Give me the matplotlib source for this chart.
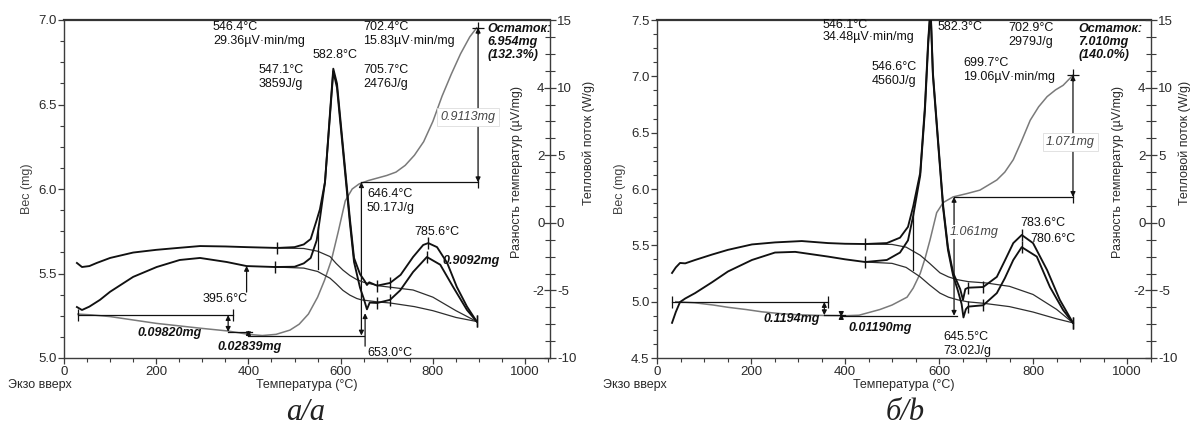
import matplotlib
matplotlib.use('Agg')
import numpy as np
import matplotlib.pyplot as plt
from matplotlib.ticker import MultipleLocator, FormatStrFormatter

plt.rcParams['font.family'] = ['Liberation Sans', 'DejaVu Sans']
plt.rcParams['axes.unicode_minus'] = False

# ---------------- data : panel a ----------------
a_tga_T = [30, 60, 100, 150, 200, 250, 300, 355, 400, 430, 460, 490, 510, 530, 550, 565,
           580, 595, 610, 625, 640, 660, 680, 700, 720, 740, 760, 780, 800, 820, 840, 860, 880, 895]
a_tga_w = [5.26, 5.255, 5.245, 5.225, 5.205, 5.19, 5.175, 5.16, 5.14, 5.133, 5.14, 5.165, 5.20,
           5.26, 5.36, 5.46, 5.58, 5.75, 5.93, 6.00, 6.03, 6.05, 6.065, 6.08, 6.10, 6.14, 6.20,
           6.28, 6.40, 6.55, 6.68, 6.80, 6.90, 6.954]
a_dta1_T = [28, 39, 55, 71, 100, 150, 200, 250, 295, 350, 396, 463, 500, 520, 535, 548, 555, 566,
            577, 584, 592, 606, 620, 629, 642, 652, 657, 662, 679, 707, 730, 757, 779, 790, 809,
            831, 852, 874, 895]
a_dta1_v = [-2.97, -3.27, -3.2, -2.97, -2.6, -2.2, -2.0, -1.85, -1.72, -1.75, -1.8, -1.86, -1.8,
            -1.6, -1.2, 0.2, 1.0, 3.0, 8.2, 11.4, 10.3, 5.3, 0.3, -2.6, -3.8, -4.3, -4.6, -4.4,
            -4.65, -4.45, -3.85, -2.53, -1.64, -1.5, -1.8, -2.97, -4.75, -6.2, -7.3]
a_dta2_T = [28, 39, 55, 78, 100, 150, 201, 251, 295, 353, 396, 457, 500, 520, 535, 548, 555, 566,
            577, 584, 592, 606, 620, 629, 642, 650, 657, 663, 679, 707, 729, 757, 787, 816, 844,
            874, 895]
a_dta2_v = [-6.23, -6.45, -6.2, -5.7, -5.1, -4.0, -3.27, -2.75, -2.6, -2.9, -3.2, -3.27, -3.25,
            -3.0, -2.6, -1.3, 0.3, 3.0, 8.0, 11.2, 10.0, 5.0, 0.0, -2.9, -4.8, -5.6, -6.4, -5.9,
            -5.93, -5.7, -5.0, -3.64, -2.53, -3.1, -4.75, -6.45, -7.3]
a_base1_T = [463, 520, 550, 577, 590, 605, 620, 635, 650, 685, 757, 800, 850, 895]
a_base1_v = [-1.86, -1.9, -2.1, -2.5, -3.0, -3.5, -3.9, -4.2, -4.4, -4.67, -4.97, -5.5, -6.5, -7.3]
a_base2_T = [457, 520, 550, 577, 590, 605, 620, 635, 645, 680, 707, 760, 800, 850, 895]
a_base2_v = [-3.27, -3.35, -3.6, -4.1, -4.5, -5.0, -5.35, -5.6, -5.7, -5.85, -5.93, -6.2, -6.5,
             -7.0, -7.3]
a_mark1_T = [463, 679, 707, 790, 895]
a_mark2_T = [457, 679, 707, 787, 895]
a_step_T = [30, 367, 356, 400, 645, 898]
a_step_w = [5.254, 5.155, 5.133, 6.04, 6.954]

# ---------------- data : panel b ----------------
b_tga_T = [40, 80, 120, 151, 190, 223, 260, 294, 330, 357, 400, 430, 474, 500, 532, 545, 560,
           570, 581, 595, 609, 630, 660, 687, 723, 740, 758, 775, 794, 812, 830, 848, 864, 885]
b_tga_w = [5.0, 4.99, 4.97, 4.95, 4.93, 4.91, 4.895, 4.885, 4.88, 4.877, 4.875, 4.88, 4.93, 4.97,
           5.04, 5.12, 5.25, 5.38, 5.55, 5.79, 5.88, 5.93, 5.96, 5.99, 6.08, 6.15, 6.26, 6.42,
           6.61, 6.73, 6.82, 6.88, 6.92, 7.01]
b_dta1_T = [32, 40, 49, 60, 81, 117, 151, 202, 251, 308, 364, 400, 443, 489, 517, 534, 545, 560,
            570, 577, 582, 587, 598, 609, 619, 630, 640, 645, 651, 656, 662, 694, 723, 740, 758,
            776, 800, 830, 857, 885]
b_dta1_v = [-3.71, -3.3, -2.97, -3.0, -2.75, -2.35, -2.0, -1.6, -1.45, -1.35, -1.5, -1.55, -1.57,
            -1.5, -1.1, -0.3, 1.2, 3.7, 8.6, 13.5, 16.0, 11.1, 6.1, 1.2, -1.8, -3.7, -4.5, -4.9,
            -5.7, -4.9, -4.8, -4.75, -4.0, -2.8, -1.5, -0.9, -1.5, -3.5, -5.7, -7.4]
b_dta2_T = [32, 40, 49, 60, 81, 117, 151, 202, 251, 294, 364, 400, 443, 489, 517, 534, 545, 560,
            570, 577, 582, 587, 598, 609, 619, 630, 640, 648, 652, 657, 662, 694, 723, 740, 758,
            776, 808, 836, 864, 885]
b_dta2_v = [-7.4, -6.6, -5.86, -5.6, -5.2, -4.4, -3.6, -2.75, -2.2, -2.15, -2.5, -2.7, -2.9,
            -2.75, -2.2, -1.3, 0.5, 3.5, 8.3, 13.2, 15.8, 10.9, 5.9, 1.0, -2.0, -3.9, -5.0, -6.0,
            -7.0, -6.4, -6.2, -6.1, -5.2, -4.1, -2.75, -1.8, -2.5, -4.75, -6.45, -7.4]
b_base1_T = [443, 500, 530, 560, 580, 602, 620, 638, 662, 700, 750, 800, 850, 885]
b_base1_v = [-1.57, -1.6, -1.8, -2.4, -3.0, -3.7, -4.0, -4.2, -4.35, -4.45, -4.7, -5.3, -6.4, -7.4]
b_base2_T = [443, 500, 530, 560, 580, 602, 620, 640, 662, 694, 750, 800, 850, 885]
b_base2_v = [-2.9, -3.0, -3.3, -4.0, -4.6, -5.2, -5.5, -5.7, -5.85, -5.95, -6.2, -6.6, -7.1, -7.4]
b_mark1_T = [443, 662, 694, 776, 885]
b_mark2_T = [443, 662, 694, 776, 885]
b_step_T = [32, 364, 356, 392, 632, 885]
b_step_w = [4.997, 4.88, 4.875, 5.93, 7.01]

# ---------------- axes scales ----------------
x_ticks = [0, 200, 400, 600, 800, 1000]
hf_ticks = [-10, -5, 0, 5, 10, 15]
dta_ticks = [-2, 0, 2, 4]
a_w_ticks = [5.0, 5.5, 6.0, 6.5, 7.0]
b_w_ticks = [4.5, 5.0, 5.5, 6.0, 6.5, 7.0, 7.5]

K = '#111111'
GR = '#7a7a7a'
AXC = '#3c3c3c'
TXC = '#2a2a2a'
FS = 9

fig = plt.figure(figsize=(11.92, 4.32), dpi=100)
fig.patch.set_facecolor('white')


def setup(x0, x1, xmax, wlim, wticks, lab_dx):
    W, H = 1192.0, 432.0
    rect = [x0 / W, 1 - 358 / H, (x1 - x0) / W, 338 / H]
    ax = fig.add_axes(rect)
    ax.set_xlim(0, xmax)
    ax.set_ylim(*wlim)
    ax.set_xticks(x_ticks)
    ax.xaxis.set_minor_locator(MultipleLocator(50))
    ax.set_yticks(wticks)
    ax.yaxis.set_minor_locator(MultipleLocator(0.125))
    ax.yaxis.set_major_formatter(FormatStrFormatter('%.1f'))
    ax.spines['right'].set_visible(False)
    for s in ['left', 'bottom']:
        ax.spines[s].set_color(AXC)
        ax.spines[s].set_linewidth(1.0)
    ax.spines['top'].set_color('#333333')
    ax.spines['top'].set_linewidth(1.6)
    ax.tick_params(which='major', length=4, width=0.9, color=AXC, labelsize=9.5,
                   labelcolor=TXC, pad=1.5)
    ax.tick_params(which='minor', length=3, width=0.8, color=AXC)
    ax.set_ylabel('Вес (mg)', fontsize=9, color='#444444')
    ax.yaxis.set_label_coords(-31 / (x1 - x0), 0.5)
    ax.text(0.5, -27 / 338, 'Температура (°C)', transform=ax.transAxes, ha='center',
            va='center', fontsize=9, color=TXC)

    ax2 = ax.twinx()
    ax2.set_ylim(-10, 15)
    ax2.set_yticks(hf_ticks)
    ax2.yaxis.set_minor_locator(MultipleLocator(1.25))
    for s in ['left', 'top', 'bottom']:
        ax2.spines[s].set_visible(False)
    ax2.spines['right'].set_color(AXC)
    ax2.spines['right'].set_linewidth(1.0)
    ax2.tick_params(axis='y', which='major', direction='inout', length=9, width=0.9,
                    color=AXC, labelsize=9.5, labelcolor=TXC, pad=0.5)
    ax2.tick_params(axis='y', which='minor', direction='inout', length=7, width=0.8, color=AXC)

    ax3 = ax.twinx()
    ax3.set_ylim(-4, 6)
    ax3.set_yticks(dta_ticks)
    ax3.set_yticklabels([str(v) for v in dta_ticks])
    for s in ['left', 'top', 'bottom', 'right']:
        ax3.spines[s].set_visible(False)
    ax3.tick_params(axis='y', which='both', length=0, labelsize=9.5, labelcolor=TXC, pad=-4)
    for t in ax3.yaxis.get_major_ticks():
        t.label2.set_horizontalalignment('right')

    wpx = x1 - x0
    ax.text(1 - 33 / wpx, 0.55, 'Разность температур (µV/mg)', transform=ax.transAxes,
            rotation=90, ha='center', va='center', fontsize=9, color=TXC)
    ax.text(1 + lab_dx / wpx, 0.636, 'Тепловой поток (W/g)', transform=ax.transAxes,
            rotation=90, ha='center', va='center', fontsize=9, color=TXC)
    return ax, ax2, ax3


AP2 = dict(arrowstyle='<|-|>', color=K, lw=0.9, mutation_scale=7, shrinkA=0, shrinkB=0)
AP1 = dict(arrowstyle='-|>', color=K, lw=0.9, mutation_scale=7, shrinkA=0, shrinkB=0)


def curves(ax, ax2, tT, tw, c1T, c1v, c2T, c2v, b1T, b1v, b2T, b2v, m1, m2):
    ax.plot(tT, tw, color=GR, lw=1.1, zorder=3)
    ax2.plot(b1T, b1v, color='#2e2e2e', lw=0.9, zorder=2)
    ax2.plot(b2T, b2v, color='#2e2e2e', lw=0.9, zorder=2)
    ax2.plot(c1T, c1v, color=K, lw=1.35, zorder=3)
    ax2.plot(c2T, c2v, color=K, lw=1.35, zorder=3)
    ax2.plot(m1, np.interp(m1, c1T, c1v), ls='none', marker='|', ms=8, mew=1.0, color=K)
    ax2.plot(m2, np.interp(m2, c2T, c2v), ls='none', marker='|', ms=8, mew=1.0, color=K)


def steps(ax, sT, sw):
    t0, t1, ta, tb, tc, td = sT
    w0, w1, w2, w3, w4 = sw
    ax.plot([t0, t1], [w0, w0], color=K, lw=0.9, marker='|', ms=8, mew=0.9, zorder=4)
    ax.annotate('', xy=(ta, w1), xytext=(ta, w0), arrowprops=AP2, zorder=4)
    ax.plot([ta, tb + 8], [w1, w1], color=K, lw=0.9, zorder=4)
    ax.annotate('', xy=(tb, w2 - 0.01), xytext=(tb, w1 + 0.01), arrowprops=AP2, zorder=4)
    ax.plot([tb, tc + 6], [w2, w2], color=K, lw=0.9, zorder=4)
    ax.annotate('', xy=(tc, w3), xytext=(tc, w2), arrowprops=AP2, zorder=4)
    ax.plot([tc, td], [w3, w3], color=K, lw=0.9, marker='|', ms=8, mew=0.9, markevery=[1],
            zorder=4)
    ax.annotate('', xy=(td, w4), xytext=(td, w3), arrowprops=AP2, zorder=4)
    ax.plot([td], [w4], marker='+', ms=8, mew=0.9, color=K, zorder=4)


# ================= panel a =================
ax, ax2, ax3 = setup(64, 550, 1054, (5.0, 7.0), a_w_ticks, 39)
curves(ax, ax2, a_tga_T, a_tga_w, a_dta1_T, a_dta1_v, a_dta2_T, a_dta2_v,
       a_base1_T, a_base1_v, a_base2_T, a_base2_v, a_mark1_T, a_mark2_T)
ax2.plot([550, 550], [-3.4, -0.3], color=K, lw=0.9)
steps(ax, a_step_T, a_step_w)
ax.annotate('', xy=(653, 5.265), xytext=(653, 5.07), arrowprops=AP1, zorder=4)
ax.annotate('', xy=(396, 5.545), xytext=(396, 5.39), arrowprops=AP1, zorder=4)

ax.text(323, 6.917, '546.4°C\n29.36µV·min/mg', fontsize=FS, ha='left', va='center',
        linespacing=1.2, color=K)
ax.text(421, 6.663, '547.1°C\n3859J/g', fontsize=FS, ha='left', va='center', linespacing=1.2,
        color=K)
ax.text(540, 6.793, '582.8°C', fontsize=FS, ha='left', va='center', color=K)
ax.text(649, 6.917, '702.4°C\n15.83µV·min/mg', fontsize=FS, ha='left', va='center',
        linespacing=1.2, color=K)
ax.text(649, 6.663, '705.7°C\n2476J/g', fontsize=FS, ha='left', va='center', linespacing=1.2,
        color=K)
ax.text(918, 6.87, 'Остаток:\n6.954mg\n(132.3%)', fontsize=FS, ha='left', va='center',
        linespacing=1.15, style='italic', weight='bold', color=K)
ax.text(876, 6.426, '0.9113mg', fontsize=FS, ha='center', va='center', style='italic',
        color='#444444', zorder=6,
        bbox=dict(boxstyle='square,pad=0.25', fc='white', ec='#dddddd', lw=0.6))
ax.text(657, 5.929, '646.4°C\n50.17J/g', fontsize=FS, ha='left', va='center', linespacing=1.2,
        color=K)
ax.text(809, 5.746, '785.6°C', fontsize=FS, ha='center', va='center', color=K)
ax.text(820, 5.574, '0.9092mg', fontsize=FS, ha='left', va='center', style='italic',
        weight='bold', color=K)
ax.text(657, 5.03, '653.0°C', fontsize=FS, ha='left', va='center', color=K)
ax.text(349, 5.349, '395.6°C', fontsize=FS, ha='center', va='center', color=K)
ax.text(230, 5.148, '0.09820mg', fontsize=FS, ha='center', va='center', style='italic',
        weight='bold', color=K)
ax.text(403, 5.065, '0.02839mg', fontsize=FS, ha='center', va='center', style='italic',
        weight='bold', color=K)

# ================= panel b =================
bx, bx2, bx3 = setup(657, 1151, 1051, (4.5, 7.5), b_w_ticks, 34)
curves(bx, bx2, b_tga_T, b_tga_w, b_dta1_T, b_dta1_v, b_dta2_T, b_dta2_v,
       b_base1_T, b_base1_v, b_base2_T, b_base2_v, b_mark1_T, b_mark2_T)
bx2.plot([545, 545], [-3.5, 0.7], color=K, lw=0.9)
steps(bx, b_step_T, b_step_w)

bx.text(353, 7.40, '546.1°C\n34.48µV·min/mg', fontsize=FS, ha='left', va='center',
        linespacing=1.0, color=K)
bx.text(596, 7.437, '582.3°C', fontsize=FS, ha='left', va='center', color=K)
bx.text(747, 7.366, '702.9°C\n2979J/g', fontsize=FS, ha='left', va='center', linespacing=1.15,
        color=K)
bx.text(896, 7.304, 'Остаток:\n7.010mg\n(140.0%)', fontsize=FS, ha='left', va='center',
        linespacing=1.15, style='italic', weight='bold', color=K)
bx.text(457, 7.02, '546.6°C\n4560J/g', fontsize=FS, ha='left', va='center', linespacing=1.2,
        color=K)
bx.text(651, 7.055, '699.7°C\n19.06µV·min/mg', fontsize=FS, ha='left', va='center',
        linespacing=1.2, color=K)
bx.text(879, 6.417, '1.071mg', fontsize=FS, ha='center', va='center', style='italic',
        color='#444444', zorder=6,
        bbox=dict(boxstyle='square,pad=0.25', fc='white', ec='#dddddd', lw=0.6))
bx.text(623, 5.618, '1.061mg', fontsize=FS, ha='left', va='center', style='italic',
        color='#444444', zorder=6,
        bbox=dict(boxstyle='square,pad=0.1', fc='white', ec='none'))
bx.text(772, 5.698, '783.6°C', fontsize=FS, ha='left', va='center', color=K)
bx.text(794, 5.556, '780.6°C', fontsize=FS, ha='left', va='center', color=K)
bx.text(609, 4.624, '645.5°C\n73.02J/g', fontsize=FS, ha='left', va='center', linespacing=1.2,
        color=K)
bx.text(287, 4.846, '0.1194mg', fontsize=FS, ha='center', va='center', style='italic',
        weight='bold', color=K)
bx.text(474, 4.766, '0.01190mg', fontsize=FS, ha='center', va='center', style='italic',
        weight='bold', color=K)

# ---------------- figure-level texts ----------------
fig.text(8 / 1192, 1 - 385 / 432, 'Экзо вверх', ha='left', va='center', fontsize=9, color=TXC)
fig.text(603 / 1192, 1 - 385 / 432, 'Экзо вверх', ha='left', va='center', fontsize=9, color=TXC)
fig.text(306 / 1192, 1 - 413 / 432, 'a/a', ha='center', va='center', fontsize=22,
         family='Liberation Serif', style='italic', color='#222222')
fig.text(905 / 1192, 1 - 413 / 432, 'б/b', ha='center', va='center', fontsize=22,
         family='Liberation Serif', style='italic', color='#222222')

fig.savefig('out.png', dpi=100, facecolor='white')
